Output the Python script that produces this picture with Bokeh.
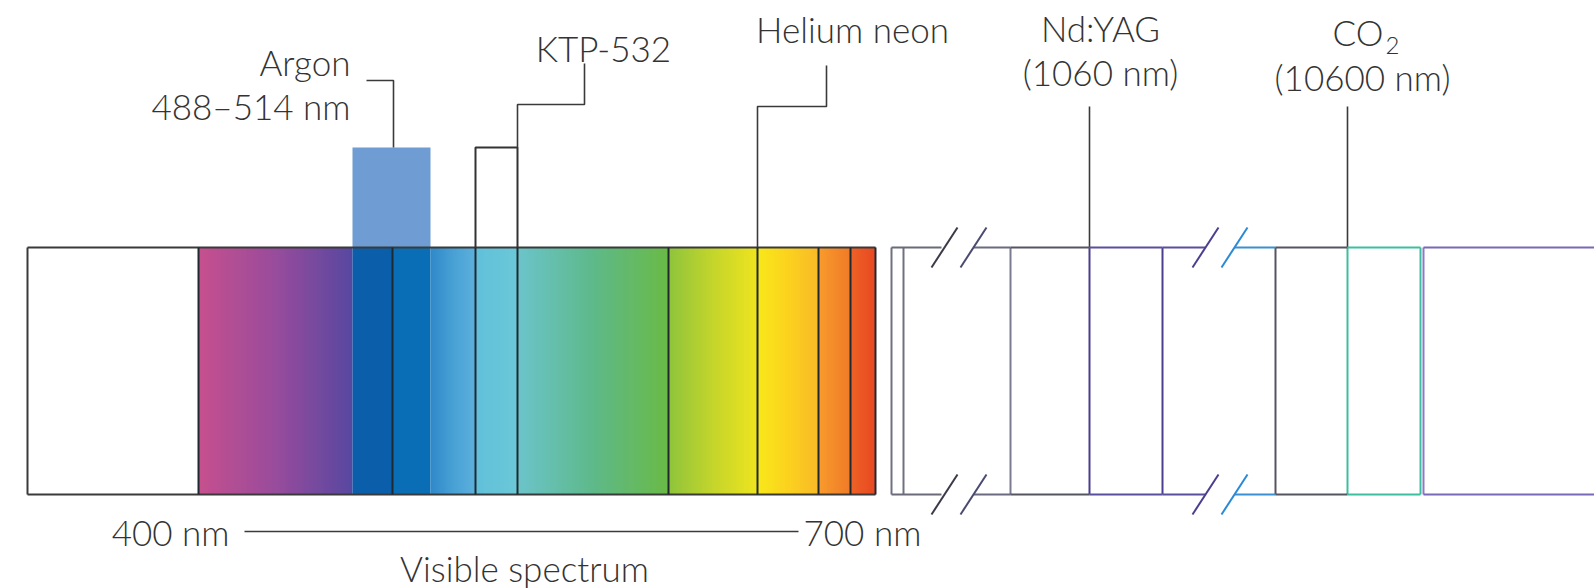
from bokeh.plotting import figure
from bokeh.models import Range1d
from bokeh.embed import file_html
from bokeh.resources import INLINE
from bokeh.core.properties import value

# ---------------- data (schematic diagram units) ----------------
band_names  = ["UV", "Violet", "Argon 488", "Argon 514", "Blue", "KTP 532", "Green", "Yellow-green", "Yellow", "Orange", "Red"]
band_left   = [27, 198, 352, 392, 430, 475, 517, 668, 757, 818, 850]
band_right  = [198, 352, 392, 430, 475, 517, 668, 757, 818, 850, 875]
band_c0     = ["#FFFFFF", "#C6508E", "#0A5EAA", "#0A6EB6", "#3088C9", "#62C0DA", "#6CC4CA", "#8EC43C", "#F8E81A", "#F89C2C", "#EE6426"]
band_c1     = ["#FFFFFF", "#984C9C", "#0A5EAA", "#0A6EB6", "#48A0D4", "#66C4D9", "#5EB98A", "#C4D52C", "#FBD21F", "#F48A2A", "#EB5524"]
band_c2     = ["#FFFFFF", "#5848A0", "#0A5EAA", "#0A6EB6", "#5DB0DC", "#6CC8D8", "#6ABA46", "#EFE41E", "#F9B928", "#F07A28", "#E84822"]
separators  = [198, 392, 475, 517, 668, 757, 818, 850, 875]

laser_names = ["Argon", "KTP-532", "Helium neon", "Nd:YAG", "CO2"]
argon_box   = (352, 430)
ktp_box     = (475, 517)

ir_lines_x     = [891, 903, 1010, 1089, 1162, 1275, 1347, 1420, 1423]
ir_lines_color = ["#707080", "#707080", "#7a7a90", "#4a3f8f", "#4a3f8f", "#555560", "#3dbf9f", "#3dbf9f", "#8c78c8"]
ir_seg_x0      = [891, 973, 1010, 1089, 1162, 1234, 1275, 1347, 1423]
ir_seg_x1      = [941, 1010, 1089, 1162, 1205, 1275, 1347, 1420, 1594]
ir_seg_color   = ["#6a6a78", "#6a6a80", "#555560", "#5a4f9f", "#5a4f9f", "#3a90d0", "#555560", "#3dbf9f", "#7a68b8"]
break_x        = [944, 973, 1205, 1234]
break_color    = ["#3a3a48", "#4a4a70", "#4a3f8f", "#2a8ad6"]

BAR_TOP, BAR_BOT = 247, 494
FONT = value("Lato Light, Lato")
TXT = "#333333"
FS = "35px"


def hex2rgb(h):
    h = h.lstrip("#")
    return tuple(int(h[i:i + 2], 16) for i in (0, 2, 4))


def mix(a, b, t):
    ra, rb = hex2rgb(a), hex2rgb(b)
    return "#%02x%02x%02x" % tuple(int(round(ra[i] + (rb[i] - ra[i]) * t)) for i in range(3))


p = figure(width=1594, height=588, x_range=Range1d(0, 1594), y_range=Range1d(588, 0),
           output_backend="svg", toolbar_location=None, min_border=0,
           background_fill_color="white", border_fill_color="white")
p.axis.visible = False
p.grid.visible = False
p.outline_line_color = None

# ---- spectrum bands (gradients as thin slices) ----
ql, qr, qc = [], [], []
for L, R, c0, c1, c2 in zip(band_left, band_right, band_c0, band_c1, band_c2):
    n = int(R - L)
    for i in range(n):
        t = (i + 0.5) / n
        col = mix(c0, c1, t * 2) if t < 0.5 else mix(c1, c2, (t - 0.5) * 2)
        ql.append(L + i)
        qr.append(min(L + i + 1.6, R))
        qc.append(col)
p.quad(left=ql, right=qr, top=BAR_TOP, bottom=BAR_BOT, fill_color=qc, line_color=None)

# argon box above the bar
p.quad(left=[argon_box[0]], right=[argon_box[1]], top=[147], bottom=[BAR_TOP],
       fill_color="#6F9CD2", line_color=None)

# bar outline
p.segment(x0=[27, 27, 27], y0=[BAR_TOP, BAR_BOT, BAR_TOP], x1=[875, 875, 27], y1=[BAR_TOP, BAR_BOT, BAR_BOT],
          line_color="#3a3a3a", line_width=2)
p.segment(x0=separators, y0=[BAR_TOP] * len(separators), x1=separators, y1=[BAR_BOT] * len(separators),
          line_color="#1e2a30", line_width=2)

# KTP box outline
p.line(x=[ktp_box[0], ktp_box[0], ktp_box[1], ktp_box[1]], y=[BAR_TOP, 147, 147, BAR_TOP],
       line_color="#333333", line_width=2)

# leaders
p.line(x=[366, 393, 393], y=[80, 80, 147], line_color="#3a3a3a", line_width=1.6)
p.line(x=[584, 584, 517, 517], y=[63, 104, 104, 147], line_color="#3a3a3a", line_width=1.6)
p.line(x=[826, 826, 757, 757], y=[65, 106, 106, BAR_TOP], line_color="#3a3a3a", line_width=1.6)
p.segment(x0=[1089, 1347], y0=[106, 106], x1=[1089, 1347], y1=[BAR_TOP, BAR_TOP],
          line_color="#3a3a3a", line_width=1.6)

# infrared schematic region
p.segment(x0=ir_lines_x, y0=[BAR_TOP] * len(ir_lines_x), x1=ir_lines_x, y1=[BAR_BOT] * len(ir_lines_x),
          line_color=ir_lines_color, line_width=2)
for yy in (BAR_TOP, BAR_BOT):
    p.segment(x0=ir_seg_x0, y0=[yy] * len(ir_seg_x0), x1=ir_seg_x1, y1=[yy] * len(ir_seg_x1),
              line_color=ir_seg_color, line_width=2)
    p.segment(x0=[x - 13 for x in break_x], y0=[yy + 20] * len(break_x),
              x1=[x + 13 for x in break_x], y1=[yy - 20] * len(break_x),
              line_color=break_color, line_width=2)

# visible spectrum range line
p.segment(x0=[244], y0=[531], x1=[798], y1=[531], line_color="#3a3a3a", line_width=1.6)

# ---- labels ----
def txt(x, y, s, align="center", size=FS):
    p.text(x=[x], y=[y], text=[s], text_font=FONT, text_font_size=size, text_color=TXT,
           text_align=align, text_baseline="middle")

txt(350, 61, "Argon", "right")
txt(350, 105, "488–514 nm", "right")
txt(603, 47, "KTP-532")
txt(852, 28, "Helium neon")
txt(1100, 27, "Nd:YAG")
txt(1100, 71, "(1060 nm)")
txt(1383, 31, "CO", "right")
txt(1385, 45, "2", "left", "24px")
txt(1362, 76, "(10600 nm)")
txt(229, 531, "400 nm", "right")
txt(803, 531, "700 nm", "left")
txt(524, 567, "Visible spectrum")

open("out.html", "w").write(file_html(p, INLINE))
